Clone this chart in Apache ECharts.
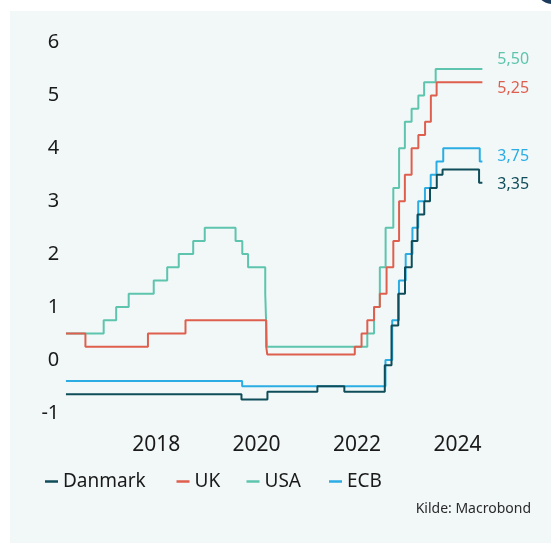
<!DOCTYPE html>
<html>
<head>
<meta charset="utf-8">
<script src="https://cdn.jsdelivr.net/npm/echarts@6/dist/echarts.min.js"></script>
<style>
html,body{margin:0;padding:0;background:#ffffff;}
#chart{width:551px;height:543px;}
</style>
</head>
<body>
<div id="chart"></div>
<script>
// ---- Data (policy rates, %), each point = date the rate took effect ----
const danmarkDates = ['2016-03-15','2019-09-13','2020-03-20','2021-03-19','2021-10-01','2022-07-22','2022-09-09','2022-10-28','2022-12-16','2023-02-03','2023-03-17','2023-05-05','2023-06-16','2023-08-04','2023-09-15','2024-06-07','2024-07-01'];
const danmarkRates = [-0.65,-0.75,-0.60,-0.50,-0.60,-0.10,0.65,1.25,1.75,2.25,2.75,3.00,3.25,3.50,3.60,3.35,3.35];

const ukDates = ['2016-03-15','2016-08-04','2017-11-02','2018-08-02','2020-03-11','2020-03-19','2021-12-16','2022-02-03','2022-03-17','2022-05-05','2022-06-16','2022-08-04','2022-09-22','2022-11-03','2022-12-15','2023-02-02','2023-03-23','2023-05-11','2023-06-22','2023-08-03','2024-07-01'];
const ukRates = [0.50,0.25,0.50,0.75,0.25,0.10,0.25,0.50,0.75,1.00,1.25,1.75,2.25,3.00,3.50,4.00,4.25,4.50,5.00,5.25,5.25];

const usaDates = ['2016-03-15','2016-12-15','2017-03-16','2017-06-15','2017-12-14','2018-03-22','2018-06-14','2018-09-27','2018-12-20','2019-08-01','2019-09-19','2019-10-31','2020-03-04','2020-03-16','2022-03-17','2022-05-05','2022-06-16','2022-07-28','2022-09-22','2022-11-03','2022-12-15','2023-02-02','2023-03-23','2023-05-04','2023-07-27','2024-07-01'];
const usaRates = [0.50,0.75,1.00,1.25,1.50,1.75,2.00,2.25,2.50,2.25,2.00,1.75,1.25,0.25,0.50,1.00,1.75,2.50,3.25,4.00,4.50,4.75,5.00,5.25,5.50,5.50];

const ecbDates = ['2016-03-15','2019-09-18','2022-07-27','2022-09-14','2022-11-02','2022-12-21','2023-02-08','2023-03-22','2023-05-10','2023-06-21','2023-08-02','2023-09-20','2024-06-12','2024-07-01'];
const ecbRates = [-0.40,-0.50,0.00,0.75,1.50,2.00,2.50,3.00,3.25,3.50,3.75,4.00,3.75,3.75];

const seriesNames = ['Danmark','UK','USA','ECB'];
const yTicks = [-1,0,1,2,3,4,5,6];
const xYearLabels = [2018,2020,2022,2024];
const sourceText = 'Kilde: Macrobond';

// ---- helpers ----
function toYear(s){
  const d = Date.parse(s + 'T00:00:00Z');
  const y = new Date(d).getUTCFullYear();
  const a = Date.UTC(y,0,1), b = Date.UTC(y+1,0,1);
  return y + (d - a) / (b - a);
}
function build(dates, rates){ return dates.map((d,i)=>[toYear(d), rates[i]]); }
const FONT = 'Noto Sans';
const colors = {Danmark:'#0f4d5a', UK:'#df5f4f', USA:'#5ec4ae', ECB:'#2badE4'};

function mkSeries(name, dates, rates, z, off){
  return {
    name: name, type:'line', step:'end', z: z,
    data: build(dates, rates), showSymbol:false, symbol:'none',
    lineStyle:{color:colors[name], width:2},
    itemStyle:{color:colors[name]},
    endLabel:{show:true, distance:15, offset:off, color:colors[name], fontFamily:FONT, fontSize:16,
      formatter:p=>p.value[1].toFixed(2).replace('.',',')}
  };
}

const chart = echarts.init(document.getElementById('chart'), null, {renderer:'canvas'});
function legendItem(name, left){
  return {left:left, top:467, icon:'rect', itemWidth:13, itemHeight:2.5, itemGap:0,
    data:[name], selectedMode:false,
    textStyle:{fontFamily:FONT, fontSize:19, color:'#1a1a1a'}};
}
chart.setOption({
  animation:false,
  backgroundColor:'#ffffff',
  graphic:[
    {type:'rect', z:-10, shape:{x:10,y:11,width:541,height:532}, style:{fill:'#f1f8f7'}},
    {type:'circle', z:-10, shape:{cx:552,cy:-12,r:16}, style:{fill:'#1d3b5c'}},
    {type:'text', right:20, top:502, style:{text:sourceText, fontFamily:FONT, fontSize:14, fill:'#2a2a2a'}}
  ],
  legend:[legendItem(seriesNames[0],40), legendItem(seriesNames[1],171.5), legendItem(seriesNames[2],241.5), legendItem(seriesNames[3],324)],
  grid:{left:55.8, right:68.5, top:42.5, bottom:130.2, containLabel:false},
  xAxis:{type:'value', min:2016, max:2024.5, interval:2,
    axisLine:{show:false}, axisTick:{show:false}, splitLine:{show:false},
    axisLabel:{margin:22, fontFamily:FONT, fontSize:21, color:'#1a1a1a', showMaxLabel:false,
      formatter:v=> xYearLabels.indexOf(v) >= 0 ? String(v) : ''}},
  yAxis:{type:'value', min:yTicks[0], max:yTicks[yTicks.length-1], interval:1,
    axisLine:{show:false}, axisTick:{show:false}, splitLine:{show:false},
    axisLabel:{margin:-3.5, fontFamily:FONT, fontSize:20, color:'#1a1a1a'}},
  series:[
    mkSeries('Danmark', danmarkDates, danmarkRates, 5, [0,2]),
    mkSeries('UK', ukDates, ukRates, 4, [0,6.5]),
    mkSeries('USA', usaDates, usaRates, 3, [0,-9.5]),
    mkSeries('ECB', ecbDates, ecbRates, 2, [0,-5])
  ]
});
</script>
</body>
</html>
